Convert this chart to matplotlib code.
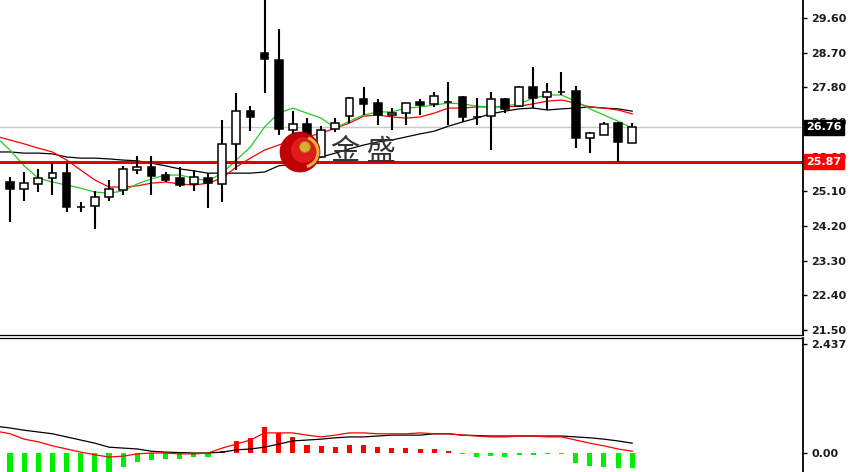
#!/usr/bin/env python

# Daily candles with three moving averages, plus an oscillator panel
# MT4-like look: white background, price scale on the right

import matplotlib
from matplotlib.backends.backend_agg import FigureCanvasAgg as FigureCanvas
from matplotlib.figure import Figure
from matplotlib.patches import Circle, Arc
import matplotlib.transforms as mtransforms

# Candles, oldest first
opens = [25.34, 25.16, 25.29, 25.44, 25.57, 24.69, 24.72, 24.95, 25.13, 25.65,
         25.73, 25.52, 25.44, 25.29, 25.44, 25.29, 26.33, 27.18, 28.69, 28.51,
         26.69, 26.85, 25.99, 26.72, 27.05, 27.50, 27.39, 27.08, 27.13, 27.42,
         27.37, 27.42, 27.55, 27.03, 27.05, 27.50, 27.31, 27.81, 27.55, 27.68,
         27.70, 26.48, 26.56, 26.87, 26.35]
highs = [25.47, 25.60, 25.68, 25.83, 25.83, 24.82, 25.11, 25.39, 25.76, 26.02,
         26.02, 25.60, 25.73, 25.65, 25.57, 26.95, 27.65, 27.31, 30.30, 29.31,
         27.18, 27.00, 26.79, 27.00, 27.55, 27.81, 27.50, 27.26, 27.39, 27.50,
         27.68, 27.94, 27.57, 27.52, 27.68, 27.52, 27.83, 28.33, 27.91, 28.20,
         27.83, 26.64, 26.90, 26.90, 26.87]
lows = [24.30, 24.85, 25.08, 25.00, 24.56, 24.56, 24.12, 24.85, 25.00, 25.55,
        25.00, 25.34, 25.21, 25.11, 24.66, 24.82, 25.65, 26.66, 27.65, 26.56,
        26.59, 25.99, 25.96, 26.64, 26.87, 27.08, 26.82, 26.69, 26.82, 27.08,
        27.29, 26.82, 26.90, 26.82, 26.17, 27.13, 27.29, 27.26, 27.21, 27.60,
        26.22, 26.09, 26.56, 25.87, 26.35]
closes = [25.16, 25.31, 25.44, 25.57, 24.69, 24.69, 24.95, 25.16, 25.68, 25.73,
          25.50, 25.39, 25.26, 25.47, 25.31, 26.33, 27.18, 27.03, 28.53, 26.72,
          26.85, 26.30, 26.69, 26.87, 27.52, 27.37, 27.08, 27.13, 27.39, 27.34,
          27.57, 27.42, 27.03, 27.03, 27.50, 27.24, 27.81, 27.52, 27.68, 27.68,
          26.48, 26.61, 26.85, 26.38, 26.76]

# Moving averages (first value belongs to the bar just off the left edge)
ma_fast = [26.51, 26.17, 25.76, 25.44, 25.34, 25.26, 25.18, 25.08, 25.05, 25.11,
           25.29, 25.42, 25.52, 25.52, 25.44, 25.37, 25.57, 25.91, 26.25, 26.77,
           27.13, 27.26, 27.13, 27.00, 26.74, 26.92, 27.08, 27.16, 27.16, 27.26,
           27.29, 27.34, 27.39, 27.37, 27.31, 27.29, 27.31, 27.37, 27.52, 27.60,
           27.60, 27.44, 27.24, 27.08, 26.92, 26.74]
ma_mid = [26.53, 26.43, 26.33, 26.22, 26.12, 25.91, 25.65, 25.39, 25.21, 25.21,
          25.24, 25.31, 25.34, 25.29, 25.26, 25.31, 25.44, 25.73, 25.96, 26.17,
          26.30, 26.43, 26.51, 26.61, 26.74, 26.87, 27.05, 27.08, 27.03, 27.00,
          27.03, 27.13, 27.26, 27.26, 27.29, 27.29, 27.29, 27.31, 27.37, 27.44,
          27.47, 27.39, 27.29, 27.26, 27.21, 27.11]
ma_slow = [26.12, 26.12, 26.09, 26.09, 26.07, 25.99, 25.96, 25.96, 25.94, 25.91,
           25.89, 25.83, 25.76, 25.68, 25.63, 25.57, 25.57, 25.57, 25.57, 25.60,
           25.76, 25.81, 25.89, 25.99, 26.09, 26.20, 26.30, 26.38, 26.43, 26.51,
           26.59, 26.66, 26.79, 26.90, 27.00, 27.11, 27.18, 27.24, 27.26, 27.21,
           27.24, 27.26, 27.29, 27.26, 27.24, 27.18]

# Oscillator panel: histogram per candle, two lines like the MAs
hist = [-0.55, -0.60, -0.62, -0.63, -0.62, -0.60, -0.55, -0.48, -0.31, -0.20,
        -0.16, -0.13, -0.13, -0.09, -0.09, 0.04, 0.27, 0.34, 0.58, 0.45,
        0.36, 0.18, 0.16, 0.13, 0.18, 0.18, 0.13, 0.11, 0.11, 0.09,
        0.09, 0.04, -0.02, -0.09, -0.07, -0.09, -0.04, -0.04, -0.02, -0.02,
        -0.22, -0.29, -0.31, -0.34, -0.34]
osc_black = [0.60, 0.56, 0.51, 0.47, 0.43, 0.36, 0.29, 0.22, 0.13, 0.11,
             0.09, 0.04, 0.02, 0.01, 0.00, 0.00, 0.02, 0.07, 0.09, 0.13,
             0.20, 0.27, 0.29, 0.31, 0.34, 0.36, 0.36, 0.38, 0.40, 0.40,
             0.40, 0.43, 0.43, 0.40, 0.39, 0.38, 0.38, 0.38, 0.38, 0.38,
             0.38, 0.36, 0.34, 0.31, 0.27, 0.22]
osc_red = [0.49, 0.43, 0.31, 0.25, 0.16, 0.09, 0.02, -0.04, -0.09, -0.07,
           -0.02, 0.00, 0.00, -0.02, -0.02, 0.00, 0.11, 0.20, 0.29, 0.45,
           0.45, 0.45, 0.40, 0.36, 0.40, 0.45, 0.45, 0.43, 0.43, 0.43,
           0.45, 0.43, 0.43, 0.40, 0.38, 0.36, 0.36, 0.38, 0.38, 0.36,
           0.36, 0.29, 0.22, 0.16, 0.09, 0.04]

# Scale labels and marked levels
price_ticks = [29.60, 28.70, 27.80, 26.90, 26.00, 25.10, 24.20, 23.30, 22.40, 21.50]
osc_ticks = [2.437, 0.00]
osc_tick_labels = ["2.437", "0.00"]
last_price = 26.76
support = 25.87

# Page 856x472 px
W, H = 856, 472
fig = Figure(figsize=(W / 100, H / 100), dpi=100, facecolor="white")
canvas = FigureCanvas(fig)

# Two panels sharing the bar axis, scale on the right
ax_p = fig.add_axes([0, (H - 335) / H, 803 / W, 335 / H])
ax_o = fig.add_axes([0, 0, 803 / W, 134 / H])
xlim = (-0.71, 56.08)
for ax in (ax_p, ax_o):
    ax.set_facecolor("white")
    ax.set_xlim(*xlim)
    ax.set_xticks([])
    ax.yaxis.tick_right()
    ax.spines["left"].set_visible(False)
    ax.spines["right"].set_linewidth(1.3)
    ax.tick_params(axis="y", direction="out", length=3, width=1, pad=3,
                   labelsize=8, labelcolor="#1c1c1c")
ax_p.spines["top"].set_visible(False)
ax_p.spines["bottom"].set_linewidth(0.9)
ax_o.spines["bottom"].set_visible(False)
ax_o.spines["top"].set_linewidth(0.9)

ax_p.set_ylim(21.366, 30.0675)
ax_o.set_ylim(-0.425, 2.573)

# Candles
idx = list(range(len(opens)))
ax_p.vlines(idx, lows, highs, color="black", linewidth=1.5, zorder=3)
body_bottom = [min(o, c) for o, c in zip(opens, closes)]
body_height = [max(abs(c - o), 0.001) for o, c in zip(opens, closes)]
body_color = ["black" if c < o else "white" for o, c in zip(opens, closes)]
ax_p.bar(idx, body_height, bottom=body_bottom, width=0.55, color=body_color,
         edgecolor="black", linewidth=1.1, zorder=4)

# Moving averages
ma_x = list(range(-1, len(opens)))
ax_p.plot(ma_x, ma_slow, color="black", linewidth=0.9, zorder=2)
ax_p.plot(ma_x, ma_mid, color="#ff0000", linewidth=0.9, zorder=2)
ax_p.plot(ma_x, ma_fast, color="#22cc22", linewidth=0.9, zorder=2)

# Last price and support level
ax_p.axhline(last_price, color="#c8c8c8", linewidth=1.0, zorder=1)
ax_p.axhline(support, color="#e00000", linewidth=2.2, zorder=2)

ax_p.set_yticks(price_ticks, labels=["%.2f" % t for t in price_ticks],
                fontweight="bold")
trans = mtransforms.blended_transform_factory(ax_p.transAxes, ax_p.transData)
ax_p.text(1.004, last_price, "%.2f" % last_price, transform=trans,
          ha="left", va="center", color="white", fontsize=8, fontweight="bold",
          bbox=dict(boxstyle="square,pad=0.2", fc="black", ec="black"),
          clip_on=False, zorder=10)
ax_p.text(1.004, support, "%.2f" % support, transform=trans,
          ha="left", va="center", color="white", fontsize=8, fontweight="bold",
          bbox=dict(boxstyle="square,pad=0.2", fc="#ff0000", ec="#ff0000"),
          clip_on=False, zorder=10)

# Oscillator panel
hist_color = ["#ff0000" if v > 0 else "#00ee00" for v in hist]
ax_o.bar(idx, hist, width=0.36, color=hist_color, linewidth=0, zorder=2)
ax_o.plot(ma_x, osc_black, color="black", linewidth=0.9, zorder=3)
ax_o.plot(ma_x, osc_red, color="#ff0000", linewidth=0.9, zorder=3)
ax_o.set_yticks(osc_ticks, labels=osc_tick_labels, fontweight="bold")

# Watermark logo
inch = fig.dpi_scale_trans
fig.add_artist(Circle((3.00, 3.20), 0.20, facecolor="#c00008",
                      edgecolor="#a00000", linewidth=0.5, transform=inch, zorder=5))
fig.add_artist(Circle((3.04, 3.22), 0.13, facecolor="#e21a1a",
                      edgecolor="none", transform=inch, zorder=6))
fig.add_artist(Arc((3.03, 3.20), 0.30, 0.30, theta1=-75, theta2=70,
                   color="#e2b43c", linewidth=2.2, transform=inch, zorder=7))
fig.add_artist(Circle((3.05, 3.25), 0.055, facecolor="#d8b030",
                      edgecolor="#a07818", linewidth=0.6, transform=inch, zorder=8))
fig.text(331 / W, (H - 152) / H, "金 盛", ha="left", va="center",
         fontsize=21, color="#333333",
         family=["Noto Sans CJK SC", "DejaVu Sans"], zorder=9)

# Output as png
fig.savefig("out.png", dpi=100)
